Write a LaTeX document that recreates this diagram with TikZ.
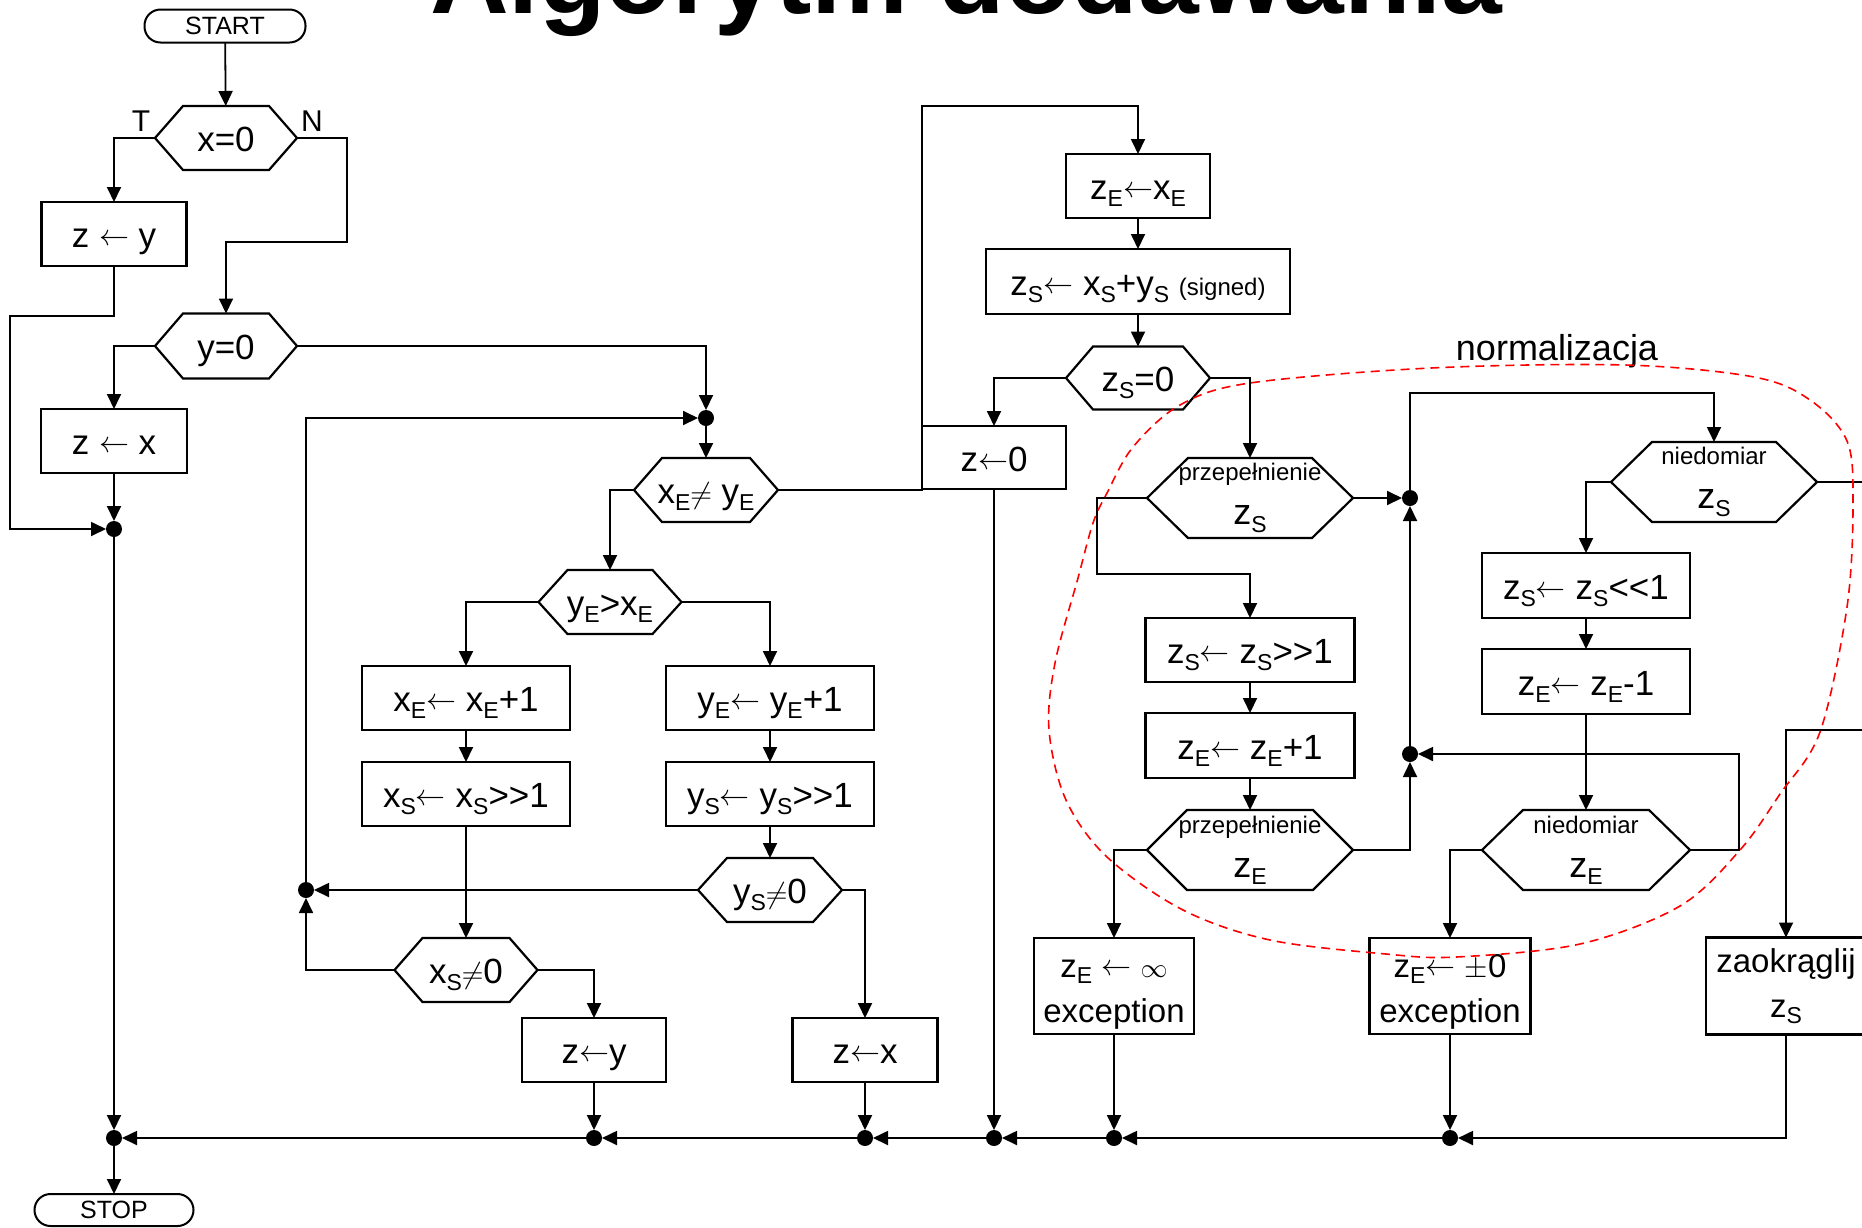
\RequirePackage{fix-cm}
\documentclass[tikz,border=0pt]{standalone}
\usepackage{fontspec}
\setmainfont{Liberation Sans}
\usetikzlibrary{arrows.meta}
\newcommand\sbs[1]{\raisebox{-0.2em}{\fontsize{23}{23}\selectfont #1}}
\newcommand\myshr{>\kern0pt>}
\newcommand\myshl{<\kern0pt<}
\newcommand\myla{\raisebox{2pt}{\fontsize{30}{30}\selectfont$\leftarrow$}}
\newcommand\myne{{\fontsize{30}{30}\selectfont$\neq$}}
\newcommand\myinf{{\fontsize{27}{27}\selectfont$\infty$}}
\newcommand\mypm{{\fontsize{30}{30}\selectfont$\pm$}}
\newcommand\hexframe[2]{\draw[boxline] (#1.west) -- ([xshift=#2pt]#1.north west) -- ([xshift=-#2pt]#1.north east) -- (#1.east) -- ([xshift=-#2pt]#1.south east) -- ([xshift=#2pt]#1.south west) -- cycle;}
\tikzset{
  boxline/.style={line width=2.2pt, line join=miter},
  wh/.style 2 args={minimum width=#1pt, minimum height=#2pt},
  mybox/.style={draw, boxline, rectangle, inner sep=0pt, outer sep=0pt, font=\fontsize{35}{40}\selectfont, align=center, text height=34pt, text depth=7pt},
  mybox2/.style={draw, boxline, rectangle, inner sep=0pt, outer sep=0pt, font=\fontsize{33}{45}\selectfont, align=center},
  myhex/.style={rectangle, inner sep=0pt, outer sep=0pt, font=\fontsize{35}{40}\selectfont, align=center, text height=34pt, text depth=7pt},
  myhexb/.style={rectangle, inner sep=0pt, outer sep=0pt, font=\fontsize{36}{44}\selectfont, align=center},
  myterm/.style={draw, line width=2pt, rectangle, rounded corners=16pt, inner sep=0pt, outer sep=0pt, font=\fontsize{25}{28}\selectfont},
  mydot/.style={circle, fill=black, inner sep=0pt, minimum size=16pt, outer sep=0pt},
  arr/.style={line width=1.8pt, -{Triangle[length=15pt,width=14pt]}},
  wire/.style={line width=1.8pt},
}
\begin{document}
\begin{tikzpicture}[x=1pt,y=-1pt]
\useasboundingbox (0,0) rectangle (1862,1227);
\node[anchor=base, font=\fontsize{109}{120}\selectfont\bfseries] (title) at (966,13) {Algorytm dodawania};

% left column
\node[myterm, wh={161}{33}] (start) at (225,26) {START};
\node[myhex, wh={142}{64}] (hx0) at (226,138) {x=0}; \hexframe{hx0}{28}
\node[font=\fontsize{30}{32}\selectfont] (lt) at (141,121) {T};
\node[font=\fontsize{30}{32}\selectfont] (ln) at (312,121) {N};
\node[mybox, wh={145}{64}] (bzy) at (114,234) {z \myla{} y};
\node[myhex, wh={142}{65}] (hy0) at (226,346) {y=0}; \hexframe{hy0}{28}
\node[mybox, wh={146}{64}] (bzx) at (114,441) {z \myla{} x};
\node[myterm, wh={159}{32}] (stop) at (114,1210) {STOP};

% dots
\node[mydot] (d1) at (114,529) {};
\node[mydot] (d2) at (706,418) {};
\node[mydot] (d3) at (306,890) {};
\node[mydot] (d4) at (1410,498) {};
\node[mydot] (d5) at (1410,754) {};
\node[mydot] (b1) at (114,1138) {};
\node[mydot] (b2) at (594,1138) {};
\node[mydot] (b3) at (865,1138) {};
\node[mydot] (b4) at (994,1138) {};
\node[mydot] (b5) at (1114,1138) {};
\node[mydot] (b6) at (1450,1138) {};

% middle
\node[myhex, wh={144}{64}] (hxe) at (706,490) {x\sbs{E}\myne{} y\sbs{E}}; \hexframe{hxe}{28}
\node[myhex, wh={143}{64}] (hyx) at (610,602) {y\sbs{E}>x\sbs{E}}; \hexframe{hyx}{29}
\node[mybox, wh={208}{64}] (bxe) at (466,698) {x\sbs{E}\myla{} x\sbs{E}+1};
\node[mybox, wh={208}{64}] (bye) at (770,698) {y\sbs{E}\myla{} y\sbs{E}+1};
\node[mybox, wh={208}{64}] (bxs) at (466,794) {x\sbs{S}\myla{} x\sbs{S}\myshr1};
\node[mybox, wh={208}{64}] (bys) at (770,794) {y\sbs{S}\myla{} y\sbs{S}\myshr1};
\node[myhex, wh={144}{64}] (hys) at (770,890) {y\sbs{S}\myne0}; \hexframe{hys}{29}
\node[myhex, wh={143}{64}] (hxs) at (466,970) {x\sbs{S}\myne0}; \hexframe{hxs}{28}
\node[mybox, wh={144}{64}] (bzy2) at (594,1050) {z\myla{}y};
\node[mybox, wh={145}{64}] (bzx2) at (865,1050) {z\myla{}x};

% right part
\node[mybox, wh={144}{64}] (bze) at (1138,186) {z\sbs{E}\myla{}x\sbs{E}};
\node[mybox, wh={304}{65}] (bzs) at (1138,281.5) {z\sbs{S}\myla{} x\sbs{S}+y\sbs{S} {\fontsize{24}{26}\selectfont (signed)}};
\node[myhex, wh={144}{63}] (hzs) at (1138,378) {z\sbs{S}=0}; \hexframe{hzs}{27}
\node[mybox, wh={144}{63}] (bz0) at (994,457.5) {z\myla{}0};

\node[myhexb, wh={206}{80}] (hpz) at (1250,498) {{\fontsize{24}{26}\selectfont przepełnienie}\\z\sbs{S}}; \hexframe{hpz}{41}
\node[mybox, wh={209}{64}] (bsr) at (1250,650) {z\sbs{S}\myla{} z\sbs{S}\myshr1};
\node[mybox, wh={209}{65}] (ber) at (1250,745.5) {z\sbs{E}\myla{} z\sbs{E}+1};
\node[myhexb, wh={206}{80}] (hpe) at (1250,850) {{\fontsize{24}{26}\selectfont przepełnienie}\\z\sbs{E}}; \hexframe{hpe}{40}
\node[mybox2, wh={160}{96}] (binf) at (1114,986) {\rule{0pt}{34pt}z\sbs{E} \myla{} \myinf\\exception};

\node[myhexb, wh={206}{80}] (hnz) at (1714,482) {{\fontsize{24}{26}\selectfont niedomiar}\\z\sbs{S}}; \hexframe{hnz}{41}
\node[mybox, wh={208}{65}] (bsl) at (1586,585.5) {z\sbs{S}\myla{} z\sbs{S}\myshl1};
\node[mybox, wh={208}{65}] (bel) at (1586,681.5) {z\sbs{E}\myla{} z\sbs{E}-1};
\node[myhexb, wh={208}{80}] (hne) at (1586,850) {{\fontsize{24}{26}\selectfont niedomiar}\\z\sbs{E}}; \hexframe{hne}{41}
\node[mybox2, wh={161}{96}] (bpm) at (1450,986) {\rule{0pt}{34pt}z\sbs{E}\myla{} \mypm0\\exception};
\node[mybox2, wh={160}{97}] (brd) at (1786,986) {zaokrąglij\\z\sbs{S}};

\node[font=\fontsize{36}{40}\selectfont] (norm) at (1557,351) {normalizacja};

\coordinate (offA) at (1880,482);
\coordinate (offB) at (1880,730);

% connectors left
\draw[arr] (start) -- (hx0);
\draw[arr] (hx0.west) -| (bzy.north);
\draw[arr] (hx0.east) -| (347,242) -| (hy0.north);
\draw[arr] (bzy.south) -- (114,316) -- (10,316) |- (d1);
\draw[arr] (hy0.west) -| (bzx.north);
\draw[arr] (hy0.east) -| (d2);
\draw[arr] (bzx.south) -- (d1);
\draw[arr] (d1) -- (b1);
\draw[arr] (b1) -- (stop.north);

% middle
\draw[arr] (d2) -- (hxe.north);
\draw[arr] (d3) |- (d2);
\draw[arr] (hxe.west) -| (hyx.north);
\draw[arr] (hxe.east) -| (922,106) -| (bze.north);
\draw[arr] (hyx.west) -| (bxe.north);
\draw[arr] (hyx.east) -| (bye.north);
\draw[arr] (bxe) -- (bxs);
\draw[arr] (bye) -- (bys);
\draw[arr] (bxs.south) -- (hxs.north);
\draw[arr] (bys.south) -- (hys.north);
\draw[arr] (hys.west) -- (d3);
\draw[arr] (hys.east) -| (bzx2.north);
\draw[arr] (hxs.west) -| (d3);
\draw[arr] (hxs.east) -| (bzy2.north);
\draw[arr] (bzy2.south) -- (b2);
\draw[arr] (bzx2.south) -- (b3);

% bottom chain
\draw[arr] (b2) -- (b1);
\draw[arr] (b3) -- (b2);
\draw[arr] (b4) -- (b3);
\draw[arr] (b5) -- (b4);
\draw[arr] (b6) -- (b5);
\draw[arr] (brd.south) |- (b6);

% right
\draw[arr] (bze) -- (bzs);
\draw[arr] (bzs) -- (hzs.north);
\draw[arr] (hzs.west) -| (bz0.north);
\draw[arr] (hzs.east) -| (hpz.north);
\draw[arr] (bz0.south) -- (b4);
\draw[arr] (hpz.east) -- (d4);
\draw[arr] (hpz.west) -| (1097,574) -| (bsr.north);
\draw[arr] (bsr) -- (ber);
\draw[arr] (ber.south) -- (hpe.north);
\draw[arr] (hpe.east) -| (d5);
\draw[arr] (hpe.west) -| (binf.north);
\draw[arr] (binf.south) -- (b5);
\draw[arr] (d5) -- (d4);
\draw[arr] (d4) -- (1410,393) -| (hnz.north);
\draw[arr] (hnz.west) -| (bsl.north);
\draw[arr] (bsl) -- (bel);
\draw[arr] (bel.south) -- (hne.north);
\draw[arr] (hne.west) -| (bpm.north);
\draw[arr] (bpm.south) -- (b6);
\draw[arr] (hne.east) -- (1739,850) |- (d5);
\draw[wire] (hnz.east) -- (offA);
\draw[arr] (offB) -| (brd.north);

% normalization outline
\draw[red, line width=1.6pt, dash pattern=on 9pt off 6pt] plot[smooth cycle, tension=0.55] coordinates {
(1133,447) (1180,405) (1250,383) (1431,368) (1625,365) (1754,377) (1810,400) (1847,441) (1853,504) (1847,607) (1820,732) (1780,794) (1740,850) (1680,906) (1580,944) (1456,957) (1386,954) (1270,940) (1183,910) (1107,857) (1066,800) (1049,730) (1055,663) (1078,578) (1093,523) (1107,493)};
\end{tikzpicture}
\end{document}
